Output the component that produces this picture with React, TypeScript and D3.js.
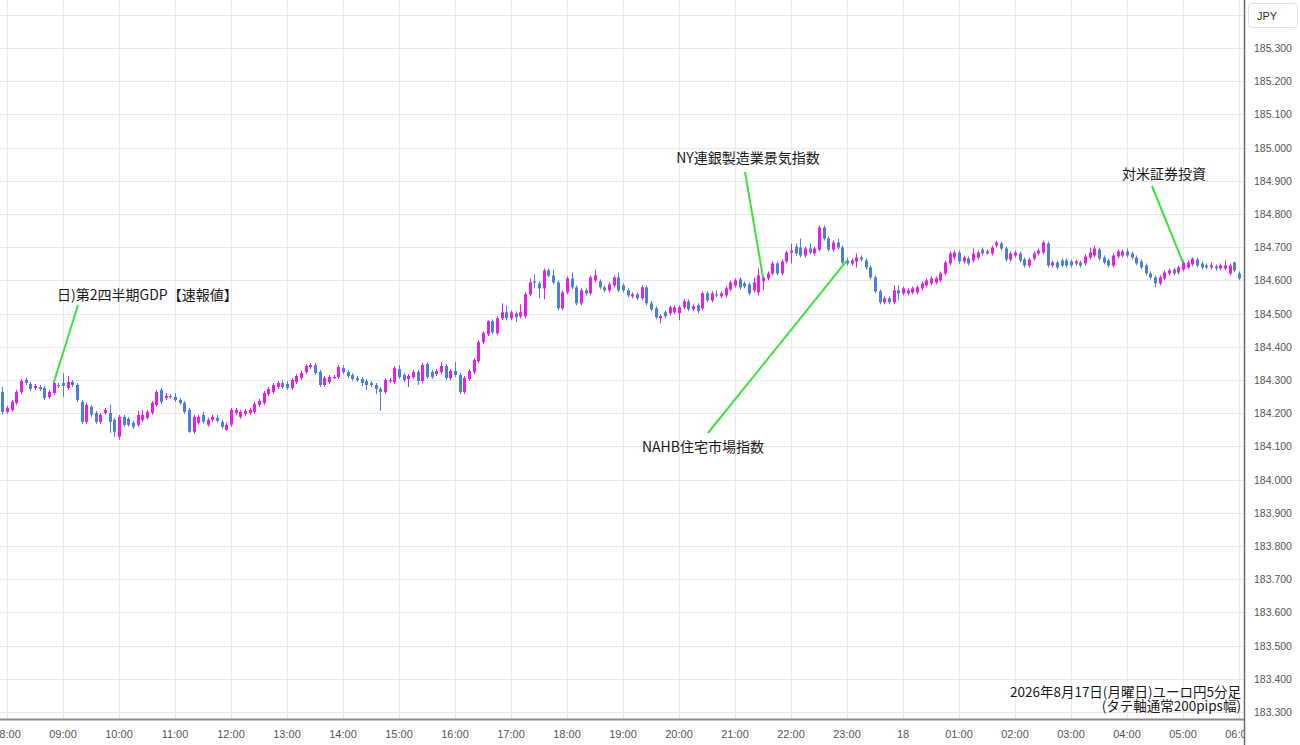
import React from 'react';
import * as d3 from 'd3';

// 5-minute EUR/JPY candles, first candle 2026-08-17 07:55
const startTime = new Date(2026, 7, 17, 7, 55);

const opens = [
  184.264, 184.204, 184.210, 184.231, 184.264, 184.300, 184.288, 184.276, 184.279, 184.276, 184.249, 184.261,
  184.285, 184.291, 184.276, 184.294, 184.285, 184.234, 184.174, 184.219, 184.201, 184.174, 184.201, 184.201,
  184.180, 184.129, 184.189, 184.183, 184.171, 184.165, 184.180, 184.186, 184.201, 184.225, 184.270, 184.246,
  184.252, 184.249, 184.240, 184.231, 184.210, 184.144, 184.171, 184.195, 184.165, 184.180, 184.186, 184.174,
  184.150, 184.165, 184.201, 184.189, 184.198, 184.201, 184.204, 184.225, 184.231, 184.258, 184.264, 184.279,
  184.291, 184.288, 184.276, 184.294, 184.306, 184.324, 184.339, 184.345, 184.324, 184.285, 184.294, 184.306,
  184.309, 184.336, 184.324, 184.315, 184.306, 184.303, 184.297, 184.291, 184.285, 184.273, 184.264, 184.297,
  184.294, 184.333, 184.315, 184.303, 184.309, 184.324, 184.297, 184.348, 184.324, 184.318, 184.324, 184.342,
  184.306, 184.327, 184.315, 184.264, 184.303, 184.324, 184.357, 184.414, 184.438, 184.477, 184.441, 184.486,
  184.504, 184.486, 184.501, 184.492, 184.492, 184.558, 184.597, 184.591, 184.576, 184.630, 184.615, 184.594,
  184.516, 184.564, 184.606, 184.579, 184.531, 184.570, 184.561, 184.600, 184.597, 184.579, 184.570, 184.585,
  184.609, 184.585, 184.570, 184.552, 184.558, 184.546, 184.579, 184.531, 184.516, 184.486, 184.504, 184.501,
  184.504, 184.501, 184.519, 184.537, 184.513, 184.525, 184.516, 184.561, 184.540, 184.558, 184.552, 184.555,
  184.573, 184.585, 184.603, 184.591, 184.588, 184.570, 184.564, 184.597, 184.606, 184.621, 184.651, 184.621,
  184.657, 184.684, 184.702, 184.699, 184.675, 184.696, 184.681, 184.693, 184.759, 184.726, 184.693, 184.714,
  184.699, 184.660, 184.651, 184.657, 184.669, 184.660, 184.639, 184.609, 184.567, 184.534, 184.546, 184.534,
  184.570, 184.561, 184.561, 184.564, 184.564, 184.576, 184.585, 184.591, 184.594, 184.600, 184.621, 184.651,
  184.669, 184.684, 184.657, 184.666, 184.660, 184.669, 184.693, 184.681, 184.681, 184.705, 184.711, 184.696,
  184.663, 184.675, 184.681, 184.663, 184.645, 184.666, 184.681, 184.684, 184.711, 184.645, 184.654, 184.660,
  184.660, 184.657, 184.651, 184.654, 184.651, 184.669, 184.675, 184.693, 184.669, 184.660, 184.645, 184.672,
  184.675, 184.687, 184.681, 184.669, 184.657, 184.645, 184.621, 184.609, 184.591, 184.606, 184.621, 184.633,
  184.624, 184.633, 184.639, 184.648, 184.663, 184.651, 184.645, 184.639, 184.642, 184.636, 184.636, 184.621,
  184.654, 184.621,
];

const highs = [
  184.279, 184.222, 184.240, 184.270, 184.303, 184.306, 184.294, 184.288, 184.285, 184.282, 184.270, 184.297,
  184.291, 184.321, 184.312, 184.300, 184.291, 184.240, 184.231, 184.225, 184.207, 184.201, 184.216, 184.225,
  184.186, 184.195, 184.195, 184.189, 184.177, 184.207, 184.210, 184.210, 184.237, 184.270, 184.276, 184.261,
  184.258, 184.261, 184.246, 184.237, 184.216, 184.195, 184.195, 184.204, 184.186, 184.195, 184.195, 184.180,
  184.171, 184.216, 184.216, 184.210, 184.213, 184.216, 184.234, 184.243, 184.267, 184.279, 184.291, 184.297,
  184.300, 184.297, 184.306, 184.318, 184.327, 184.348, 184.351, 184.351, 184.330, 184.312, 184.315, 184.315,
  184.345, 184.345, 184.330, 184.321, 184.312, 184.309, 184.303, 184.297, 184.291, 184.279, 184.306, 184.306,
  184.342, 184.345, 184.321, 184.318, 184.330, 184.330, 184.351, 184.354, 184.330, 184.333, 184.354, 184.348,
  184.333, 184.354, 184.321, 184.312, 184.333, 184.366, 184.420, 184.447, 184.480, 184.483, 184.492, 184.531,
  184.525, 184.510, 184.507, 184.528, 184.564, 184.606, 184.618, 184.597, 184.636, 184.636, 184.633, 184.600,
  184.570, 184.612, 184.624, 184.585, 184.576, 184.576, 184.615, 184.633, 184.603, 184.585, 184.594, 184.615,
  184.624, 184.591, 184.576, 184.564, 184.564, 184.585, 184.585, 184.537, 184.522, 184.498, 184.510, 184.525,
  184.525, 184.525, 184.543, 184.543, 184.528, 184.531, 184.567, 184.567, 184.567, 184.570, 184.567, 184.582,
  184.600, 184.606, 184.609, 184.597, 184.594, 184.609, 184.636, 184.615, 184.627, 184.657, 184.657, 184.663,
  184.690, 184.711, 184.711, 184.726, 184.702, 184.711, 184.702, 184.765, 184.765, 184.732, 184.720, 184.726,
  184.705, 184.669, 184.666, 184.681, 184.675, 184.666, 184.645, 184.615, 184.573, 184.552, 184.552, 184.585,
  184.585, 184.582, 184.576, 184.582, 184.585, 184.597, 184.606, 184.612, 184.612, 184.627, 184.660, 184.687,
  184.690, 184.690, 184.675, 184.672, 184.696, 184.690, 184.699, 184.693, 184.705, 184.720, 184.717, 184.702,
  184.687, 184.690, 184.687, 184.669, 184.669, 184.687, 184.696, 184.720, 184.717, 184.660, 184.660, 184.666,
  184.666, 184.663, 184.663, 184.660, 184.678, 184.699, 184.705, 184.699, 184.675, 184.666, 184.681, 184.693,
  184.693, 184.696, 184.687, 184.675, 184.663, 184.651, 184.627, 184.615, 184.615, 184.630, 184.636, 184.639,
  184.645, 184.660, 184.660, 184.669, 184.669, 184.657, 184.651, 184.654, 184.648, 184.651, 184.660, 184.651,
  184.657, 184.627,
];

const lows = [
  184.195, 184.198, 184.204, 184.225, 184.258, 184.285, 184.267, 184.270, 184.267, 184.240, 184.243, 184.255,
  184.276, 184.249, 184.270, 184.279, 184.234, 184.168, 184.168, 184.189, 184.168, 184.168, 184.195, 184.141,
  184.129, 184.120, 184.159, 184.159, 184.153, 184.159, 184.174, 184.180, 184.195, 184.219, 184.228, 184.240,
  184.243, 184.234, 184.225, 184.198, 184.141, 184.138, 184.165, 184.168, 184.159, 184.174, 184.171, 184.153,
  184.147, 184.159, 184.195, 184.183, 184.192, 184.195, 184.198, 184.219, 184.225, 184.252, 184.258, 184.273,
  184.273, 184.270, 184.270, 184.288, 184.300, 184.318, 184.333, 184.315, 184.279, 184.279, 184.288, 184.303,
  184.303, 184.318, 184.306, 184.297, 184.294, 184.282, 184.270, 184.279, 184.258, 184.207, 184.258, 184.291,
  184.288, 184.303, 184.294, 184.279, 184.303, 184.285, 184.291, 184.303, 184.303, 184.312, 184.318, 184.300,
  184.300, 184.309, 184.258, 184.258, 184.297, 184.318, 184.351, 184.408, 184.432, 184.438, 184.435, 184.480,
  184.480, 184.480, 184.474, 184.486, 184.486, 184.552, 184.576, 184.546, 184.543, 184.609, 184.588, 184.510,
  184.510, 184.558, 184.573, 184.525, 184.525, 184.555, 184.555, 184.594, 184.573, 184.564, 184.564, 184.579,
  184.564, 184.564, 184.549, 184.546, 184.540, 184.540, 184.525, 184.507, 184.483, 184.471, 184.486, 184.495,
  184.498, 184.480, 184.513, 184.507, 184.507, 184.501, 184.510, 184.534, 184.534, 184.549, 184.546, 184.549,
  184.567, 184.579, 184.573, 184.576, 184.555, 184.564, 184.555, 184.570, 184.600, 184.615, 184.615, 184.615,
  184.651, 184.651, 184.675, 184.669, 184.669, 184.678, 184.675, 184.687, 184.720, 184.687, 184.687, 184.693,
  184.648, 184.645, 184.645, 184.639, 184.657, 184.633, 184.603, 184.561, 184.528, 184.528, 184.528, 184.528,
  184.540, 184.555, 184.555, 184.558, 184.558, 184.570, 184.579, 184.585, 184.588, 184.594, 184.615, 184.645,
  184.663, 184.651, 184.651, 184.645, 184.654, 184.663, 184.675, 184.678, 184.675, 184.699, 184.690, 184.657,
  184.657, 184.669, 184.654, 184.639, 184.639, 184.660, 184.675, 184.678, 184.639, 184.639, 184.633, 184.639,
  184.639, 184.639, 184.645, 184.639, 184.645, 184.663, 184.669, 184.660, 184.648, 184.639, 184.639, 184.666,
  184.669, 184.669, 184.663, 184.645, 184.633, 184.615, 184.603, 184.579, 184.585, 184.600, 184.615, 184.615,
  184.618, 184.627, 184.633, 184.642, 184.639, 184.633, 184.633, 184.633, 184.630, 184.630, 184.630, 184.615,
  184.624, 184.600,
];

const closes = [
  184.204, 184.216, 184.234, 184.264, 184.297, 184.291, 184.273, 184.282, 184.273, 184.246, 184.264, 184.291,
  184.282, 184.282, 184.294, 184.285, 184.240, 184.174, 184.225, 184.195, 184.174, 184.195, 184.210, 184.174,
  184.144, 184.189, 184.165, 184.165, 184.159, 184.195, 184.195, 184.204, 184.231, 184.264, 184.234, 184.252,
  184.249, 184.240, 184.231, 184.204, 184.144, 184.189, 184.189, 184.174, 184.180, 184.189, 184.177, 184.159,
  184.165, 184.210, 184.210, 184.204, 184.207, 184.210, 184.228, 184.237, 184.261, 184.273, 184.285, 184.291,
  184.279, 184.276, 184.300, 184.312, 184.321, 184.342, 184.345, 184.321, 184.285, 184.306, 184.309, 184.309,
  184.339, 184.324, 184.312, 184.303, 184.300, 184.291, 184.285, 184.285, 184.273, 184.264, 184.300, 184.300,
  184.336, 184.309, 184.300, 184.312, 184.324, 184.297, 184.345, 184.309, 184.309, 184.327, 184.342, 184.306,
  184.327, 184.315, 184.264, 184.306, 184.327, 184.360, 184.414, 184.441, 184.477, 184.444, 184.486, 184.504,
  184.486, 184.504, 184.489, 184.504, 184.558, 184.594, 184.594, 184.576, 184.630, 184.615, 184.594, 184.516,
  184.564, 184.606, 184.579, 184.531, 184.570, 184.561, 184.609, 184.615, 184.579, 184.570, 184.588, 184.609,
  184.570, 184.570, 184.555, 184.558, 184.546, 184.579, 184.531, 184.513, 184.489, 184.492, 184.492, 184.519,
  184.519, 184.519, 184.537, 184.513, 184.522, 184.507, 184.561, 184.540, 184.561, 184.555, 184.561, 184.576,
  184.594, 184.600, 184.579, 184.582, 184.561, 184.594, 184.615, 184.609, 184.621, 184.651, 184.621, 184.657,
  184.684, 184.690, 184.681, 184.675, 184.696, 184.684, 184.696, 184.759, 184.726, 184.693, 184.714, 184.699,
  184.654, 184.651, 184.660, 184.669, 184.663, 184.639, 184.609, 184.567, 184.534, 184.546, 184.534, 184.570,
  184.561, 184.576, 184.570, 184.576, 184.579, 184.591, 184.600, 184.606, 184.606, 184.621, 184.654, 184.681,
  184.684, 184.657, 184.669, 184.651, 184.681, 184.684, 184.681, 184.687, 184.699, 184.714, 184.696, 184.663,
  184.681, 184.684, 184.660, 184.645, 184.663, 184.681, 184.690, 184.714, 184.645, 184.654, 184.639, 184.645,
  184.645, 184.645, 184.657, 184.645, 184.672, 184.684, 184.696, 184.666, 184.654, 184.645, 184.675, 184.687,
  184.687, 184.675, 184.669, 184.651, 184.639, 184.621, 184.609, 184.591, 184.609, 184.624, 184.630, 184.621,
  184.639, 184.654, 184.654, 184.666, 184.645, 184.639, 184.639, 184.645, 184.636, 184.645, 184.645, 184.645,
  184.630, 184.606,
];

const yTickLabels = [
  '183.300', '183.400', '183.500', '183.600', '183.700', '183.800', '183.900',
  '184.000', '184.100', '184.200', '184.300', '184.400', '184.500', '184.600',
  '184.700', '184.800', '184.900', '185.000', '185.100', '185.200', '185.300',
];

const xTickLabels = [
  '08:00', '09:00', '10:00', '11:00', '12:00', '13:00', '14:00', '15:00', '16:00', '17:00', '18:00', '19:00',
  '20:00', '21:00', '22:00', '23:00', '18', '01:00', '02:00', '03:00', '04:00', '05:00', '06:00',
];

const eventLabels = ['日)第2四半期GDP【速報値】', 'NY連銀製造業景気指数', 'NAHB住宅市場指数', '対米証券投資'];
const eventTimes = [
  new Date(2026, 7, 17, 8, 50),
  new Date(2026, 7, 17, 21, 30),
  new Date(2026, 7, 17, 23, 0),
  new Date(2026, 7, 18, 5, 0),
];

const titleLines = ['2026年8月17日(月曜日)ユーロ円5分足', '(タテ軸通常200pips幅)'];

const UP = '#e81de8';
const DOWN = '#4a80d8';
const GRID = '#e3eaf1';
const GREEN = '#3ce23c';
const CJK = '"Noto Sans CJK JP", "Noto Sans", sans-serif';
const LATIN = '"Liberation Sans", Arial, sans-serif';

export default function App() {
  const W = 1300;
  const H = 745;
  const plotRight = 1244;
  const axisY = 719;

  const t0 = new Date(2026, 7, 17, 8, 0);
  const t1 = new Date(2026, 7, 18, 6, 0);
  const x = d3.scaleTime().domain([t0, t1]).range([7, 1239]);
  const y = d3.scaleLinear().domain([183.3, 185.3]).range([712, 48]);

  const candles = closes.map((c, i) => ({
    t: d3.timeMinute.offset(startTime, 5 * i),
    o: opens[i],
    h: highs[i],
    l: lows[i],
    c,
  }));

  const hourTicks = d3.timeHour.range(t0, d3.timeMinute.offset(t1, 1));
  const gridVals = d3.range(0, 22).map((k) => 183.3 + k * 0.1);

  const layout = [
    { tx: 57, ty: 300, anchor: 'start', lx: 78, ly: 305 },
    { tx: 748, ty: 163, anchor: 'middle', lx: 745, ly: 172 },
    { tx: 703, ty: 452, anchor: 'middle', lx: 708, ly: 433 },
    { tx: 1164, ty: 179, anchor: 'middle', lx: 1152, ly: 186 },
  ];

  const candleByTime = (t: Date) => candles.find((d) => +d.t === +t)!;

  return (
    <svg
      width={W}
      height={H}
      style={{ position: 'absolute', left: 0, top: 0, display: 'block', background: '#fff' }}
    >
      <defs>
        <clipPath id="plotClip">
          <rect x={0} y={0} width={plotRight} height={H} />
        </clipPath>
      </defs>
      <rect x={0} y={0} width={W} height={H} fill="#fff" />
      <g clipPath="url(#plotClip)">
        {gridVals.map((v, i) => (
          <line key={'hg' + i} x1={0} x2={plotRight} y1={Math.round(y(v)) + 0.5} y2={Math.round(y(v)) + 0.5} stroke={GRID} strokeWidth={1} />
        ))}
        {hourTicks.map((t, i) => (
          <line key={'vg' + i} x1={Math.round(x(t)) + 0.5} x2={Math.round(x(t)) + 0.5} y1={0} y2={axisY} stroke={GRID} strokeWidth={1} />
        ))}
        {candles.map((d, i) => {
          const cx = Math.round(x(d.t));
          const up = d.c >= d.o;
          const col = up ? UP : DOWN;
          const yTop = y(Math.max(d.o, d.c));
          const yBot = y(Math.min(d.o, d.c));
          return (
            <g key={'c' + i}>
              <rect x={cx} y={y(d.h)} width={1} height={Math.max(1, y(d.l) - y(d.h))} fill={col} />
              <rect x={cx - 1} y={yTop} width={3} height={Math.max(1.2, yBot - yTop)} fill={col} />
            </g>
          );
        })}
        {eventLabels.map((lab, i) => {
          const d = candleByTime(eventTimes[i]);
          const L = layout[i];
          return (
            <g key={'ev' + i}>
              <line x1={L.lx} y1={L.ly} x2={x(d.t)} y2={y(Math.max(d.o, d.c))} stroke={GREEN} strokeWidth={2} />
              <text x={L.tx} y={L.ty} textAnchor={L.anchor as any} fontFamily={CJK} fontSize={14} fill="#1a1a1a">
                {lab}
              </text>
            </g>
          );
        })}
        {titleLines.map((s, i) => (
          <text key={'tl' + i} x={1241} y={697 + i * 13.5} textAnchor="end" fontFamily={CJK} fontSize={13.5} fill="#1a1a1a">
            {s}
          </text>
        ))}
        {hourTicks.map((t, i) => (
          <text key={'xl' + i} x={x(t)} y={738} textAnchor="middle" fontFamily={LATIN} fontSize={11} fill="#555">
            {xTickLabels[i]}
          </text>
        ))}
      </g>
      <line x1={0} x2={plotRight} y1={axisY + 0.5} y2={axisY + 0.5} stroke="#8c8c8c" strokeWidth={2} />
      <line x1={plotRight + 0.5} x2={plotRight + 0.5} y1={0} y2={H} stroke="#6a6a6a" strokeWidth={1.5} />
      {yTickLabels.map((s, i) => (
        <text key={'yl' + i} x={1254} y={y(183.3 + i * 0.1) + 4} fontFamily={LATIN} fontSize={10.5} fill="#555">
          {s}
        </text>
      ))}
      <rect x={1248.5} y={3.5} width={49} height={24} rx={3} ry={3} fill="#fff" stroke="#e2e2e2" />
      <text x={1257} y={19.5} fontFamily={LATIN} fontSize={11} fill="#333">
        JPY
      </text>
    </svg>
  );
}
